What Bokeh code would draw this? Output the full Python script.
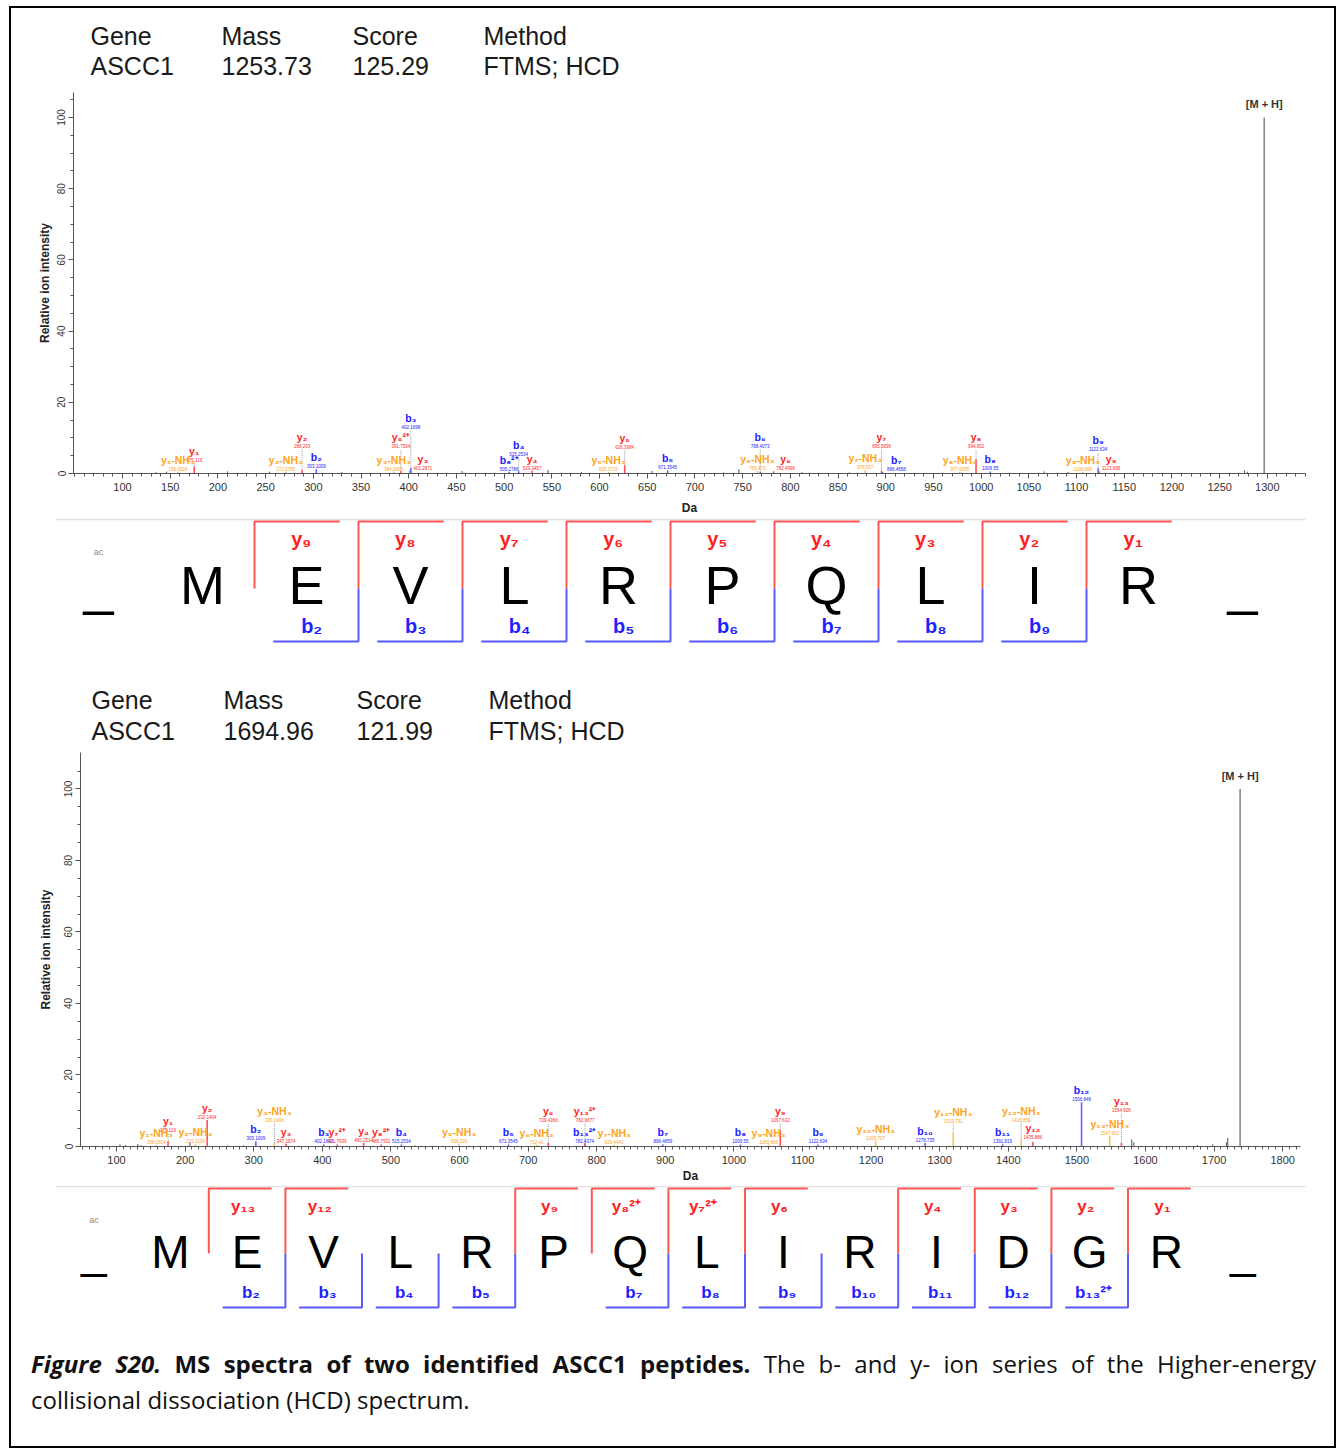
from bokeh.plotting import figure
from bokeh.layouts import column
from bokeh.models import Range1d, FixedTicker, Div, ColumnDataSource
from bokeh.core.properties import value
from bokeh.embed import file_html
from bokeh.resources import INLINE

W = 1323

# ---------------- header tables ----------------
header_keys = ["Gene", "Mass", "Score", "Method"]
header1_vals = ["ASCC1", "1253.73", "125.29", "FTMS; HCD"]
header2_vals = ["ASCC1", "1694.96", "121.99", "FTMS; HCD"]

# ---------------- spectrum 1 (ac-MEVLRPQLIR) ----------------
spec1_ion = ["y₁-NH₃", "y₁", "y₂-NH₃", "y₂", "b₂", "y₃-NH₃", "y₆²⁺", "y₃", "b₃",
             "b₈²⁺", "b₄", "y₄", "y₅-NH₃", "y₅", "b₅", "y₆-NH₃", "b₆", "y₆",
             "y₇-NH₃", "y₇", "b₇", "y₈-NH₃", "y₈", "b₈", "y₉-NH₃", "b₉", "y₉"]
spec1_mz = [158.0924, 175.119, 271.1765, 288.203, 303.1009, 384.2605, 391.7534, 401.2871, 402.1698,
            505.2786, 515.2534, 529.3457, 609.3719, 626.3984, 671.3545, 765.473, 768.4073, 782.4996,
            878.557, 895.5836, 896.4658, 977.6255, 994.652, 1009.55, 1106.668, 1122.634, 1123.695]
spec1_int = [0.5, 2.0, 0.5, 1.0, 1.2, 0.5, 0.6, 0.8, 1.5,
             0.5, 0.6, 0.8, 0.4, 2.3, 0.8, 0.8, 0.4, 0.6,
             0.8, 0.8, 0.4, 0.5, 4.0, 0.5, 0.5, 1.5, 0.6]
spec1_lvl = [0.0, 2.9, 0.0, 6.8, 1.2, 0.0, 6.8, 0.0, 12.3,
             0.0, 4.6, 0.0, 0.0, 6.5, 1.0, 0.4, 6.8, 0.0,
             1.0, 6.8, 0.4, 0.1, 6.8, 0.7, 0.1, 6.0, 0.0]
spec1_dx = [0, 0, 0, 0, 0, 0, 0, 13, 0,
            0, 0, 0, 0, 0, 0, 0, 0, 12,
            0, 0, 14, 0, 0, 0, 0, 0, 12]
spec1_noise_mz = [135, 146, 210, 254, 330, 456, 546, 581, 655, 730, 746, 812, 862, 1066, 1091, 1276, 1279]
spec1_noise_int = [0.4, 0.5, 0.6, 0.5, 0.4, 0.7, 1.0, 0.4, 0.7, 0.3, 1.2, 0.4, 0.3, 0.6, 0.4, 0.9, 0.5]
spec1_mh = 1296.75

# ---------------- spectrum 2 (ac-MEVLRPQLIRIDGR) ----------------
spec2_ion = ["y₁-NH₃", "y₁", "y₂-NH₃", "y₂", "b₂", "y₃-NH₃", "y₃", "b₃", "y₇²⁺", "y₄",
             "y₈²⁺", "b₄", "y₅-NH₃", "b₅", "y₆-NH₃", "y₆", "b₁₃²⁺", "y₁₃²⁺", "y₇-NH₃", "b₇",
             "b₈", "y₉-NH₃", "y₉", "b₉", "y₁₀-NH₃", "b₁₀", "y₁₁-NH₃", "b₁₁", "y₁₂-NH₃", "y₁₂",
             "b₁₂", "y₁₃-NH₃", "y₁₃"]
spec2_mz = [158.0924, 175.119, 215.1139, 232.1404, 303.1009, 330.1408, 347.1674, 402.1693, 421.7639, 460.2514,
            485.7932, 515.2534, 599.326, 671.3545, 712.41, 729.4366, 782.4374, 782.9677, 825.4941, 896.4659,
            1009.55, 1050.606, 1067.632, 1122.634, 1206.707, 1278.735, 1319.791, 1391.819, 1418.859, 1435.886,
            1506.846, 1547.902, 1564.928]
spec2_int = [0.4, 1.5, 0.6, 7.4, 1.5, 1.0, 0.8, 0.5, 0.5, 1.0,
             0.5, 0.5, 0.5, 0.5, 0.5, 1.0, 0.5, 1.0, 0.5, 0.5,
             0.5, 0.5, 4.5, 0.5, 1.6, 1.0, 3.8, 0.5, 2.0, 1.2,
             12.4, 3.0, 1.0]
spec2_lvl = [0.3, 3.9, 0.3, 6.7, 0.8, 6.7, 0.8, 0.8, 0.8, 0.8,
             0.8, 0.8, 0.8, 0.8, 0.3, 6.7, 0.8, 6.7, 0.3, 0.8,
             0.8, 0.3, 6.5, 0.8, 0.8, 0.8, 6.2, 0.8, 6.7, 1.7,
             12.3, 2.8, 9.5]
spec2_dx = [0] * 33
spec2_noise_mz = [105, 113, 131, 136, 207, 262, 285, 535, 1580, 1583, 1676, 1698, 1718, 1720]
spec2_noise_int = [0.6, 0.4, 0.7, 0.4, 1.2, 0.3, 0.3, 0.3, 2.0, 1.2, 0.4, 0.6, 1.2, 2.4]
spec2_mh = 1737.98

# ---------------- sequences ----------------
pep1 = ["M", "E", "V", "L", "R", "P", "Q", "L", "I", "R"]
pep1_y_num = [9, 8, 7, 6, 5, 4, 3, 2, 1]
pep1_y_lbl = ["y₉", "y₈", "y₇", "y₆", "y₅", "y₄", "y₃", "y₂", "y₁"]
pep1_b_num = [2, 3, 4, 5, 6, 7, 8, 9]
pep1_b_lbl = ["b₂", "b₃", "b₄", "b₅", "b₆", "b₇", "b₈", "b₉"]

pep2 = ["M", "E", "V", "L", "R", "P", "Q", "L", "I", "R", "I", "D", "G", "R"]
pep2_y_num = [13, 12, 9, 8, 7, 6, 4, 3, 2, 1]
pep2_y_lbl = ["y₁₃", "y₁₂", "y₉", "y₈²⁺", "y₇²⁺", "y₆", "y₄", "y₃", "y₂", "y₁"]
pep2_b_num = [2, 3, 4, 5, 7, 8, 9, 10, 11, 12, 13]
pep2_b_lbl = ["b₂", "b₃", "b₄", "b₅", "b₇", "b₈", "b₉", "b₁₀", "b₁₁", "b₁₂", "b₁₃²⁺"]

TXT = {"y": "#ff1f1f", "b": "#2020ff", "n": "#ffa41c"}
PK = {"y": "#ff5252", "b": "#6262ff", "n": "#ffbf5a"}
FONT = "Liberation Sans"
ORIGIN_X = 11  # page x of the layout's content edge


def kind(lbl):
    if "NH" in lbl:
        return "n"
    return "b" if lbl.startswith("b") else "y"


def base_fig(height, xr, yr, **kw):
    p = figure(width=W, height=height, x_range=Range1d(*xr), y_range=Range1d(*yr),
               output_backend="svg", toolbar_location=None, **kw)
    p.outline_line_color = None
    p.grid.visible = False
    p.background_fill_color = "white"
    p.border_fill_color = "white"
    if "frame_align" in p.properties():
        p.frame_align = False
    return p


def make_header(height, xs, key_y, val_y, vals):
    p = base_fig(height, (0, W), (height, 0), min_border=0,
                 x_axis_location=None, y_axis_location=None)
    p.text(x=xs, y=[key_y] * 4, text=header_keys, text_font=value(FONT),
           text_font_size="25px", text_color="#1a1a1a", text_baseline="middle")
    p.text(x=xs, y=[val_y] * 4, text=vals, text_font=value(FONT),
           text_font_size="25px", text_color="#1a1a1a", text_baseline="middle")
    return p


def make_spectrum(height, top, bottom, left, right, xr, yr, xticks, xminor,
                  ions, mz, inten, lvl, dx, nmz, nint, mh, ylab_standoff, xlab_standoff):
    p = base_fig(height, xr, yr, min_border_left=left, min_border_right=W - right,
                 min_border_top=top, min_border_bottom=height - bottom)
    kinds = [kind(s) for s in ions]
    lab_y = [max(a, b) for a, b in zip(lvl, inten)]
    src = ColumnDataSource(dict(
        mz=mz, inten=inten, zero=[0] * len(mz), lab_y=lab_y, dx=dx, ion=ions,
        mass=[f"{m:.7g}" for m in mz],
        pk=[PK[k] for k in kinds], tc=[TXT[k] for k in kinds]))
    # noise peaks
    p.segment(x0=nmz, y0=[0] * len(nmz), x1=nmz, y1=nint, line_color="#555555", line_width=1)
    # dotted connectors
    dm = [m for m, a, b in zip(mz, inten, lvl) if b > a]
    d0 = [a for a, b in zip(inten, lvl) if b > a]
    d1 = [b for a, b in zip(inten, lvl) if b > a]
    p.segment(x0=dm, y0=d0, x1=dm, y1=d1, line_color="#9a9a9a", line_width=1, line_dash="1 1")
    # annotated peaks
    p.segment(x0="mz", y0="zero", x1="mz", y1="inten", line_color="pk", line_width=1.6, source=src)
    p.text(x="mz", y="lab_y", text="mass", x_offset="dx", y_offset=-1, text_color="tc",
           text_font=value(FONT), text_font_size="4.5px", text_align="center",
           text_baseline="bottom", source=src)
    p.text(x="mz", y="lab_y", text="ion", x_offset="dx", y_offset=-6, text_color="tc",
           text_font=value(FONT), text_font_size="10.5px", text_font_style="bold",
           text_align="center", text_baseline="bottom", source=src)
    # precursor
    p.segment(x0=[mh], y0=[0], x1=[mh], y1=[100], line_color="#8a8a8a", line_width=1.6)
    p.text(x=[mh], y=[100], text=["[M + H]"], y_offset=-7, text_font=value(FONT),
           text_font_size="11px", text_font_style="bold", text_color="#333333",
           text_align="center", text_baseline="bottom")
    # axes
    p.xaxis.ticker = FixedTicker(ticks=xticks, minor_ticks=xminor)
    p.yaxis.ticker = FixedTicker(ticks=[0, 20, 40, 60, 80, 100], minor_ticks=list(range(0, 106, 5)))
    for ax in (p.xaxis[0], p.yaxis[0]):
        ax.axis_line_color = "#555555"
        ax.major_tick_line_color = "#555555"
        ax.minor_tick_line_color = "#555555"
        ax.major_tick_in = 0
        ax.minor_tick_in = 0
        ax.major_tick_out = 5
        ax.minor_tick_out = 3
        ax.major_label_text_font = FONT
        ax.major_label_text_color = "#333333"
        ax.axis_label_text_font = FONT
        ax.axis_label_text_font_style = "bold"
        ax.axis_label_text_color = "#222222"
        ax.axis_label_text_font_size = "12px"
    p.xaxis.major_label_text_font_size = "11px"
    p.xaxis.major_label_standoff = 4
    p.xaxis.axis_label = "Da"
    p.xaxis.axis_label_standoff = xlab_standoff
    p.yaxis.major_label_text_font_size = "10px"
    p.yaxis.major_label_orientation = "vertical"
    p.yaxis.major_label_standoff = 3
    p.yaxis.axis_label = "Relative ion intensity"
    p.yaxis.axis_label_standoff = ylab_standoff
    return p


def make_seq(height, pep, spacing, first_x, y_top, y_mid, y_bot, let_y, let_px, lbl_px,
             ylab_y, blab_y, ac_y, sep_y, y_num, y_lbl, b_num, b_lbl):
    x0 = 1 - (first_x - ORIGIN_X) / spacing
    p = base_fig(height, (x0, x0 + W / spacing), (height, 0), min_border=0,
                 x_axis_location=None, y_axis_location=None)
    sep_a = x0 + (55 - ORIGIN_X) / spacing
    sep_b = x0 + (1305 - ORIGIN_X) / spacing
    p.segment(x0=[sep_a], y0=[sep_y], x1=[sep_b], y1=[sep_y], line_color="#e2e2e2", line_width=1.5)
    residues = ["_"] + pep + ["_"]
    p.text(x=list(range(len(residues))), y=[let_y] * len(residues), text=residues,
           text_font=value(FONT), text_font_size=let_px, text_color="black",
           text_align="center", text_baseline="middle")
    p.text(x=[0], y=[ac_y], text=["ac"], text_font=value(FONT), text_font_size="9px",
           text_color="#8a8a8a", text_align="center", text_baseline="middle")
    n = len(pep)
    L = 0.82
    ysite = [n - k + 0.5 for k in y_num]
    p.multi_line(xs=[[s + L, s, s] for s in ysite], ys=[[y_top, y_top, y_mid]] * len(ysite),
                 line_color="#ff5656", line_width=2)
    p.text(x=[s + 0.45 for s in ysite], y=[ylab_y] * len(ysite), text=y_lbl,
           text_font=value(FONT), text_font_size=lbl_px, text_font_style="bold",
           text_color="#ff1f1f", text_align="center", text_baseline="middle")
    bsite = [k + 0.5 for k in b_num]
    p.multi_line(xs=[[s, s, s - L] for s in bsite], ys=[[y_mid, y_bot, y_bot]] * len(bsite),
                 line_color="#5a5aff", line_width=2)
    p.text(x=[s - 0.45 for s in bsite], y=[blab_y] * len(bsite), text=b_lbl,
           text_font=value(FONT), text_font_size=lbl_px, text_font_style="bold",
           text_color="#1f1fff", text_align="center", text_baseline="middle")
    return p


h1 = make_header(77, [79, 210, 341, 472], 27, 57, header1_vals)
s1 = make_spectrum(432, 7, 393, 62, 1294, (48.6, 1340), (0, 107),
                   list(range(100, 1301, 50)), list(range(50, 1341, 10)),
                   spec1_ion, spec1_mz, spec1_int, spec1_lvl, spec1_dx,
                   spec1_noise_mz, spec1_noise_int, spec1_mh, 3, 7)
q1 = make_seq(155, pep1, 104.0, 202, 4, 71, 124, 67, "54px", "20px", 21, 108, 34, 2,
              pep1_y_num, pep1_y_lbl, pep1_b_num, pep1_b_lbl)
h2 = make_header(73, [80, 212, 345, 477], 27, 58, header2_vals)
s2 = make_spectrum(440, 7, 401, 69, 1289, (47.5, 1826), (0, 110.2),
                   list(range(100, 1801, 100)), list(range(50, 1821, 10)),
                   spec2_ion, spec2_mz, spec2_int, spec2_lvl, spec2_dx,
                   spec2_noise_mz, spec2_noise_int, spec2_mh, 9, 2)
q2 = make_seq(133, pep2, 76.6, 170, 3, 68, 122, 66, "46px", "17px", 21, 107, 34, 1,
              pep2_y_num, pep2_y_lbl, pep2_b_num, pep2_b_lbl)

caption_html = (
    '<div style="box-sizing:border-box;width:1323px;padding:23px 23px 0 15px;'
    "font-family:'Open Sans',sans-serif;font-size:24px;line-height:36px;color:#111;\">"
    '<div style="text-align:justify;text-align-last:justify;">'
    '<b><i>Figure S20.</i> MS spectra of two identified ASCC1 peptides.</b> '
    'The b- and y- ion series of the Higher-energy</div>'
    '<div>collisional dissociation (HCD) spectrum.</div></div>'
)
cap = Div(text=caption_html, width=W, height=128)

layout = column(h1, s1, q1, h2, s2, q2, cap, spacing=0, width=W, height=1438,
                sizing_mode="fixed",
                styles={"outline": "2px solid #000", "background": "white",
                        "margin": "8px 0 0 11px"})

open("out.html", "w").write(file_html(layout, INLINE))
